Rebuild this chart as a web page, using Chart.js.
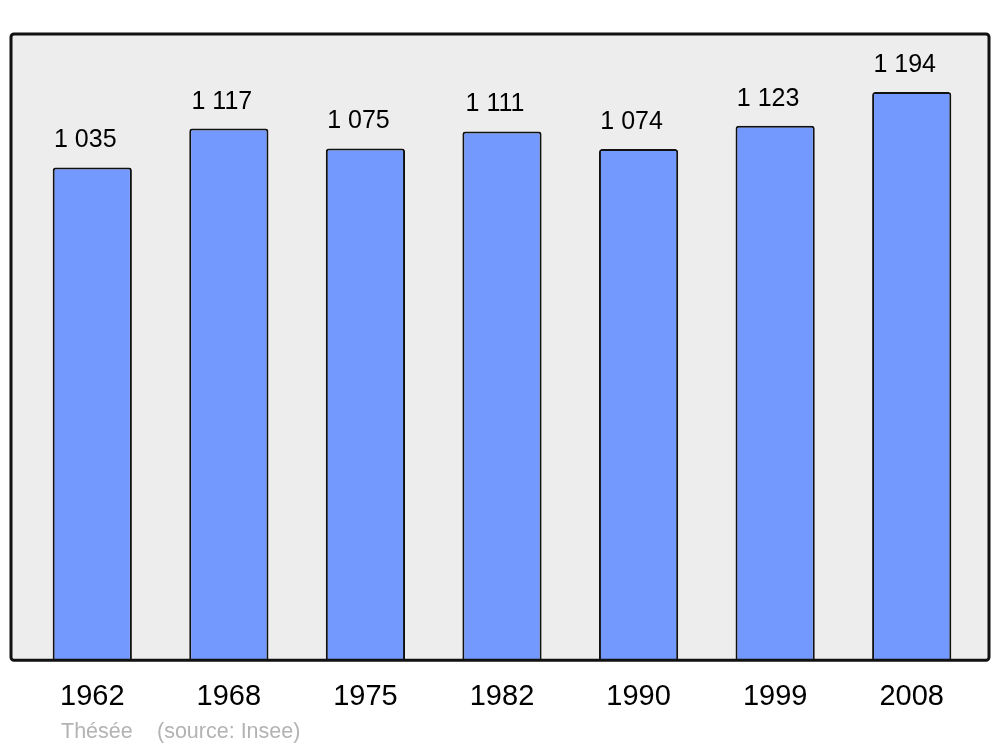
<!DOCTYPE html>
<html lang="fr">
<head>
    <meta charset="UTF-8">
    <title>Population</title>
    <script src="https://cdn.jsdelivr.net/npm/chart.js"></script>
    <style>
        body {
            margin: 0;
            background: #ffffff;
        }
        .chart-box {
            width: 1000px;
            height: 747px;
        }
    </style>
</head>
<body>
    <div class="chart-box">
        <canvas id="popChart"></canvas>
    </div>

    <script>
        const years = ['1962', '1968', '1975', '1982', '1990', '1999', '2008'];
        const population = [1035, 1117, 1075, 1111, 1074, 1123, 1194];
        const valueLabels = ['1 035', '1 117', '1 075', '1 111', '1 074', '1 123', '1 194'];
        const footerText = ['Thésée', '(source: Insee)'];

        // grey frame behind the bars
        const frame = {
            id: 'frame',
            beforeDatasetsDraw(chart) {
                const { ctx, chartArea } = chart;
                const x0 = chartArea.left - 13, x1 = chartArea.right + 9;
                const y0 = chartArea.top, y1 = chartArea.bottom + 1;
                ctx.save();
                ctx.beginPath();
                ctx.roundRect(x0, y0, x1 - x0, y1 - y0, 3);
                ctx.fillStyle = '#ededed';
                ctx.fill();
                ctx.restore();
            },
            afterDatasetsDraw(chart) {
                const { ctx, chartArea } = chart;
                const x0 = chartArea.left - 13, x1 = chartArea.right + 9;
                const y0 = chartArea.top, y1 = chartArea.bottom + 1;
                ctx.save();
                ctx.beginPath();
                ctx.roundRect(x0, y0, x1 - x0, y1 - y0, 3);
                ctx.lineWidth = 3;
                ctx.strokeStyle = '#111111';
                ctx.stroke();

                // value labels above bars (sit a little left of centre in the original)
                ctx.font = '25px "Liberation Sans", Arial, sans-serif';
                ctx.fillStyle = '#000000';
                ctx.textAlign = 'center';
                ctx.textBaseline = 'alphabetic';
                chart.getDatasetMeta(0).data.forEach((bar, i) => {
                    ctx.fillText(valueLabels[i], bar.x - 7, bar.y - 20);
                });

                // footer
                ctx.font = '21.5px "Liberation Sans", Arial, sans-serif';
                ctx.fillStyle = '#b3b3b3';
                ctx.textAlign = 'left';
                ctx.fillText(footerText[0], 61, 738);
                ctx.fillText(footerText[1], 157, 738);
                ctx.restore();
            }
        };

        new Chart(document.getElementById('popChart'), {
            type: 'bar',
            data: {
                labels: years,
                datasets: [{
                    data: population,
                    backgroundColor: '#7399ff',
                    borderColor: '#111111',
                    borderWidth: 2,
                    borderRadius: { topLeft: 3, topRight: 3 },
                    borderSkipped: 'bottom',
                    barPercentage: 0.58,
                    categoryPercentage: 1
                }]
            },
            options: {
                responsive: true,
                maintainAspectRatio: false,
                animation: false,
                layout: {
                    padding: { left: 24, right: 20, top: 34, bottom: 13 }
                },
                plugins: {
                    legend: { display: false },
                    tooltip: { enabled: false }
                },
                scales: {
                    x: {
                        grid: { display: false, drawTicks: false },
                        border: { display: false },
                        ticks: {
                            color: '#000000',
                            padding: 20,
                            font: { family: '"Liberation Sans", Arial, sans-serif', size: 29 }
                        }
                    },
                    y: {
                        display: false,
                        min: 0,
                        max: 1316
                    }
                }
            },
            plugins: [frame]
        });
    </script>
</body>
</html>
